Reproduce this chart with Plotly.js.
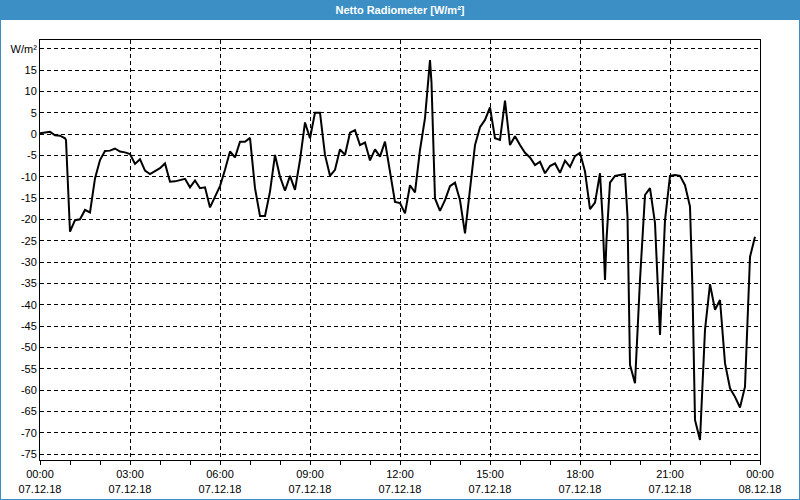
<!DOCTYPE html>
<html>
<head>
<meta charset="utf-8">
<script src="https://cdn.plot.ly/plotly-3.0.1.min.js"></script>
<style>html,body{margin:0;padding:0;background:#fff;}#chart{width:800px;height:500px;}</style>
</head>
<body>
<div id="chart"></div>
<script>
const chartTitle = "Netto Radiometer [W/m²]";
const day = "2018-12-07";
const times = [
"00:00","00:10","00:15","00:20","00:30","00:40","00:50","00:52",
"01:00","01:10","01:20","01:30","01:40","01:50",
"02:00","02:10","02:20","02:30","02:40","02:50",
"03:00","03:10","03:20","03:30","03:40","03:50",
"04:00","04:10","04:20","04:30","04:40","04:50",
"05:00","05:10","05:20","05:30","05:40","05:50",
"06:00","06:10","06:20","06:30","06:40","06:50",
"07:00","07:10","07:20","07:30","07:40","07:50",
"08:00","08:10","08:20","08:30","08:40","08:50",
"09:00","09:10","09:20","09:30","09:40","09:50",
"10:00","10:10","10:20","10:30","10:40","10:50",
"11:00","11:10","11:20","11:30","11:40","11:50",
"12:00","12:10","12:20","12:30","12:40","12:50",
"13:00","13:03","13:10","13:20","13:30","13:40","13:50",
"14:00","14:10","14:20","14:30","14:40","14:50",
"15:00","15:10","15:20","15:30","15:40","15:50",
"16:00","16:10","16:20","16:30","16:40","16:50",
"17:00","17:10","17:20","17:30","17:40","17:50",
"18:00","18:10","18:20","18:30","18:40","18:45","18:50","18:53",
"19:00","19:10","19:20","19:30","19:35","19:40","19:50",
"20:00","20:10","20:20","20:30","20:40","20:50",
"21:00","21:10","21:20","21:30","21:40","21:45","21:50",
"22:00","22:10","22:20","22:30","22:40","22:50",
"23:00","23:10","23:20","23:30","23:40","23:50"
];
const values = [
0.2,0.4,0.5,0.5,-0.3,-0.4,-1.0,-1.4,
-22.9,-20.2,-20.0,-17.8,-18.4,-10.4,
-6.1,-4.0,-3.9,-3.4,-4.1,-4.3,
-4.7,-7.0,-5.9,-8.6,-9.4,-8.6,
-8.0,-6.9,-11.2,-11.1,-10.8,-10.5,
-12.5,-10.9,-12.7,-12.5,-17.2,-14.7,
-12.2,-8.4,-4.1,-5.5,-1.8,-1.8,
-0.9,-12.7,-19.2,-19.2,-13.5,-4.9,
-10.0,-13.3,-9.8,-13.1,-6.1,2.7,
-1.0,5.0,5.0,-4.9,-9.8,-8.4,
-3.6,-4.9,0.3,0.9,-2.6,-2.0,
-6.2,-3.6,-5.3,-1.8,-9.2,-15.9,
-16.2,-18.6,-12.0,-13.7,-3.75,3.7,
17.3,12.0,-15.1,-18.0,-15.5,-12.2,-11.4,
-15.5,-23.3,-12.3,-2.6,1.6,3.3,
6.25,-1.0,-1.4,7.8,-2.6,-0.5,
-2.6,-4.4,-5.5,-7.3,-6.5,-9.2,
-7.5,-6.9,-9.1,-6.25,-7.7,-5.2,
-4.4,-8.8,-17.6,-16.1,-9.2,-19.4,-34.2,-24.8,
-11.4,-9.8,-9.6,-9.4,-19.4,-54.1,-58.4,
-34.2,-14.3,-12.7,-20.9,-47.1,-20.2,
-9.8,-9.6,-9.8,-12.0,-17.0,-36.6,-67.0,
-71.7,-45.9,-35.2,-41.2,-38.9,-53.7,
-59.6,-61.6,-64.1,-59.2,-28.8,-24.1
];
const yTickVals = [-75,-70,-65,-60,-55,-50,-45,-40,-35,-30,-25,-20,-15,-10,-5,0,5,10,15,20];
const yTickText = ["-75","-70","-65","-60","-55","-50","-45","-40","-35","-30","-25","-20","-15","-10","-5","0","5","10","15","W/m²"];

const x = times.map(t => day + " " + t);
const W = 720, H = 420, L = 40, T = 40;
const blue = "#3b8fc4";
const fontFam = "Liberation Sans, Arial, sans-serif";

const trace = {
  x: x, y: values, type: "scatter", mode: "lines",
  line: {color: "#000", width: 2}, hoverinfo: "skip"
};

const layout = {
  width: 800, height: 500,
  margin: {l: 40, r: 40, t: 40, b: 40, pad: 0},
  paper_bgcolor: "#fff", plot_bgcolor: "#fff",
  showlegend: false,
  font: {family: fontFam, size: 11, color: "#000"},
  title: {text: chartTitle, x: 0.5, xanchor: "center", y: 1 - 10/500, yanchor: "middle",
          font: {family: fontFam, size: 11, color: "#fff", weight: "bold"}},
  xaxis: {
    type: "date",
    range: ["2018-12-07 00:00", "2018-12-08 00:00"],
    tick0: "2018-12-07 00:00", dtick: 3*3600000,
    tickformat: "%H:%M<br>%d.%m.%y",
    ticks: "outside", ticklen: 4, tickcolor: "#000", tickwidth: 1,
    showline: true, linecolor: "#000", linewidth: 1, mirror: true,
    showgrid: true, gridcolor: "#000", gridwidth: 1, griddash: "4px,3px",
    zeroline: false,
    minor: {dtick: 3600000, ticks: "outside", ticklen: 4, tickcolor: "#000", showgrid: false},
    tickfont: {family: fontFam, size: 11, color: "#000"}
  },
  yaxis: {
    range: [-76.4, 22.03],
    tickmode: "array", tickvals: yTickVals, ticktext: yTickText,
    ticks: "", showline: true, linecolor: "#000", linewidth: 1, mirror: true,
    showgrid: true, gridcolor: "#000", gridwidth: 1, griddash: "4px,3px",
    zeroline: false,
    tickfont: {family: fontFam, size: 11, color: "#000"}
  },
  shapes: [
    {type: "rect", xref: "paper", yref: "paper", layer: "below",
     x0: -L/W, x1: 1 + L/W, y0: 1 + 20/H, y1: 1 + T/H,
     fillcolor: blue, line: {width: 0}},
    {type: "rect", xref: "paper", yref: "paper", layer: "above",
     x0: -L/W, x1: 1 + 40/W, y0: -40/H, y1: 1 + T/H,
     fillcolor: "rgba(0,0,0,0)", line: {color: blue, width: 2}}
  ]
};

Plotly.newPlot("chart", [trace], layout, {staticPlot: true, displayModeBar: false});
</script>
</body>
</html>
